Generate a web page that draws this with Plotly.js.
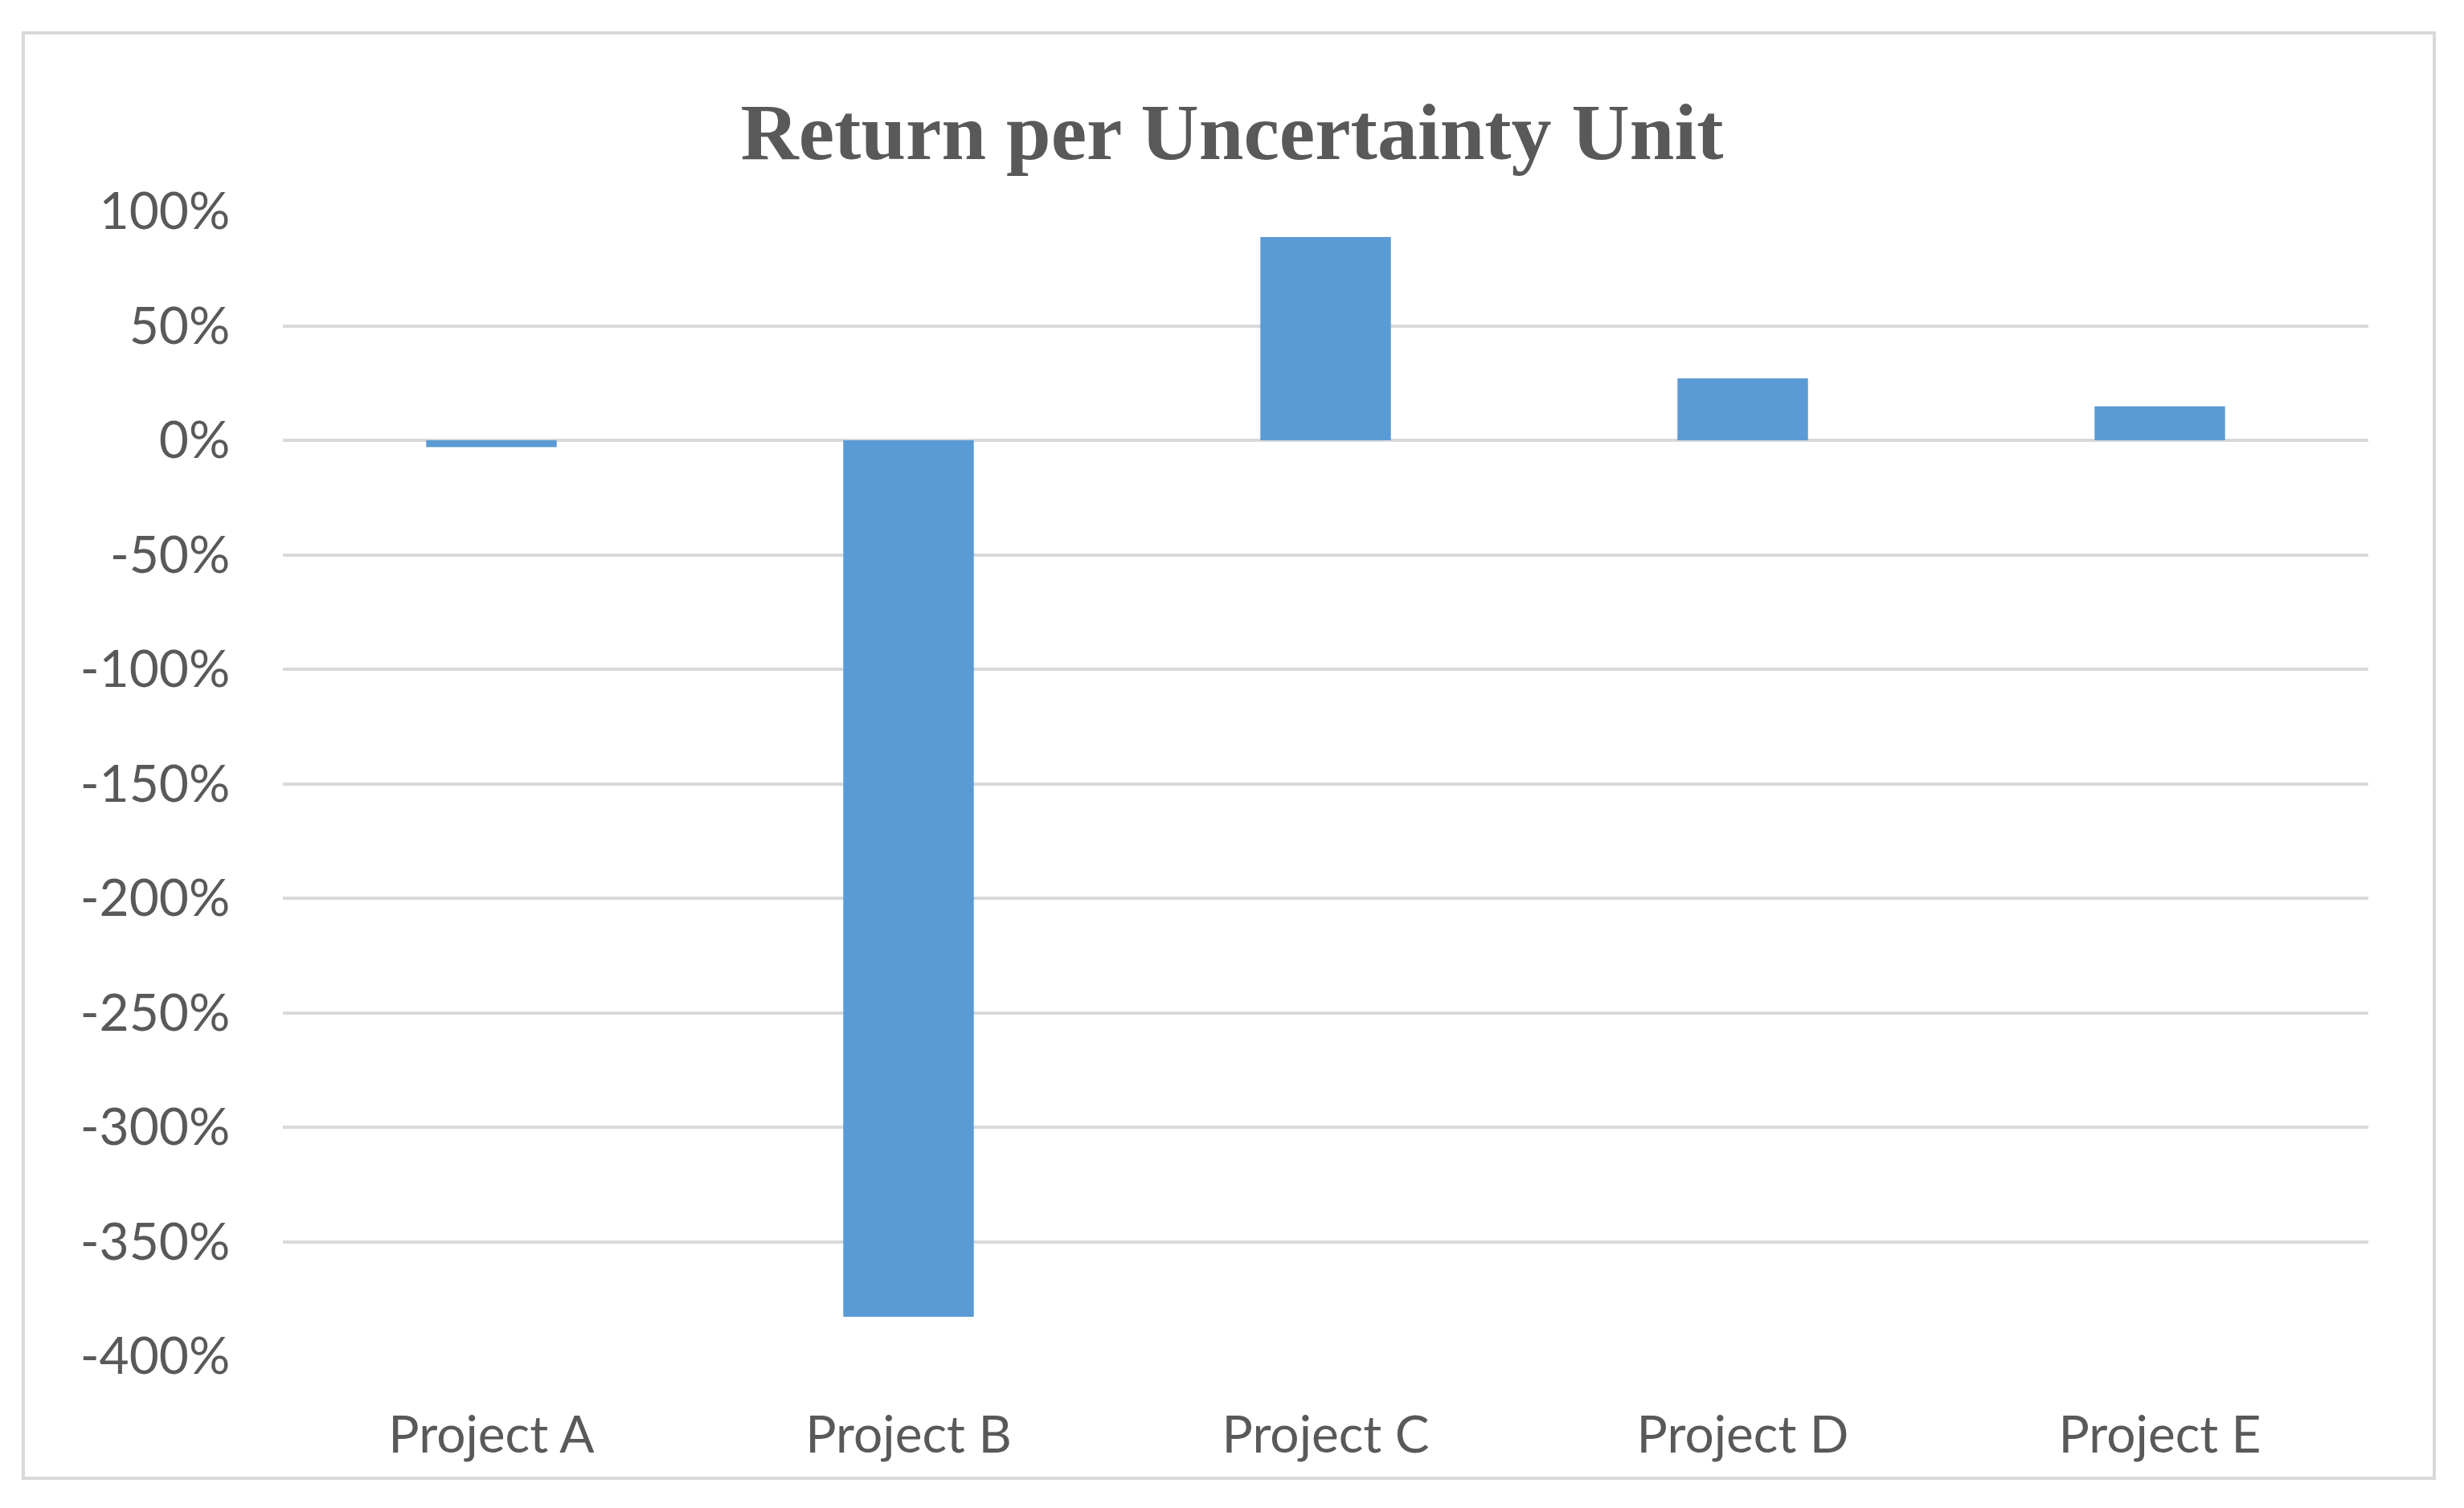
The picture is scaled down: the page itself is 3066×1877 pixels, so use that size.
<!DOCTYPE html>
<html>
<head>
<meta charset="utf-8">
<script src="https://cdn.plot.ly/plotly-3.0.1.min.js"></script>
<style>
  html, body { margin: 0; padding: 0; background: #ffffff; }
  #chart { width: 3066px; height: 1877px; }
</style>
</head>
<body>
<div id="chart"></div>
<script>
const categories = ["Project A", "Project B", "Project C", "Project D", "Project E"];
const returnPerUnit = [-0.030, -3.828, 0.888, 0.270, 0.148];
const yTickValues = [1.0, 0.5, 0, -0.5, -1.0, -1.5, -2.0, -2.5, -3.0, -3.5, -4.0];
const yTickLabels = ["100%", "50%", "0%", "-50%", "-100%", "-150%", "-200%", "-250%", "-300%", "-350%", "-400%"];
const chartTitle = "Return per Uncertainty Unit";

const W = 3066, H = 1877;
const mL = 352, mR = 119, mT = 263, mB = 189;
const pw = W - mL - mR, ph = H - mT - mB;
function px2x(p) { return (p - mL) / pw; }
function py2y(p) { return (H - mB - p) / ph; }

const trace = {
  type: 'bar',
  x: categories,
  y: returnPerUnit,
  marker: { color: '#5B9BD5', line: { width: 0 } },
  hoverinfo: 'skip'
};

const layout = {
  width: W,
  height: H,
  margin: { l: mL, r: mR, t: mT, b: mB, pad: 0 },
  paper_bgcolor: '#ffffff',
  plot_bgcolor: '#ffffff',
  showlegend: false,
  bargap: 0.687,
  title: {
    text: '<b>' + chartTitle + '</b>',
    font: { family: 'Liberation Serif, Times New Roman, serif', size: 100, color: '#595959' },
    x: 0.5,
    xref: 'container',
    xanchor: 'center',
    y: 1 - 163 / H,
    yref: 'container',
    yanchor: 'middle'
  },
  font: { family: 'Lato, Calibri, sans-serif', color: '#595959', size: 64 },
  xaxis: {
    type: 'category',
    showgrid: false,
    zeroline: false,
    showline: false,
    ticks: 'outside',
    ticklen: 42,
    tickcolor: 'rgba(0,0,0,0)',
    tickfont: { family: 'Lato, Calibri, sans-serif', size: 64, color: '#595959' },
    fixedrange: true
  },
  yaxis: {
    range: [-4.0, 1.0],
    tickmode: 'array',
    tickvals: yTickValues,
    ticktext: yTickLabels,
    showgrid: true,
    gridcolor: '#d9d9d9',
    gridwidth: 4,
    zeroline: true,
    zerolinecolor: '#d9d9d9',
    zerolinewidth: 4,
    showline: false,
    ticks: 'outside',
    ticklen: 52,
    tickcolor: 'rgba(0,0,0,0)',
    tickfont: { family: 'Lato, Calibri, sans-serif', size: 64, color: '#595959' },
    fixedrange: true
  },
  shapes: [{
    type: 'rect',
    xref: 'paper', yref: 'paper',
    x0: px2x(29), x1: px2x(3029),
    y0: py2y(1840), y1: py2y(41),
    line: { color: '#d9d9d9', width: 4 },
    fillcolor: 'rgba(0,0,0,0)',
    layer: 'below'
  }]
};

Plotly.newPlot('chart', [trace], layout, { staticPlot: true, displayModeBar: false });
</script>
</body>
</html>
